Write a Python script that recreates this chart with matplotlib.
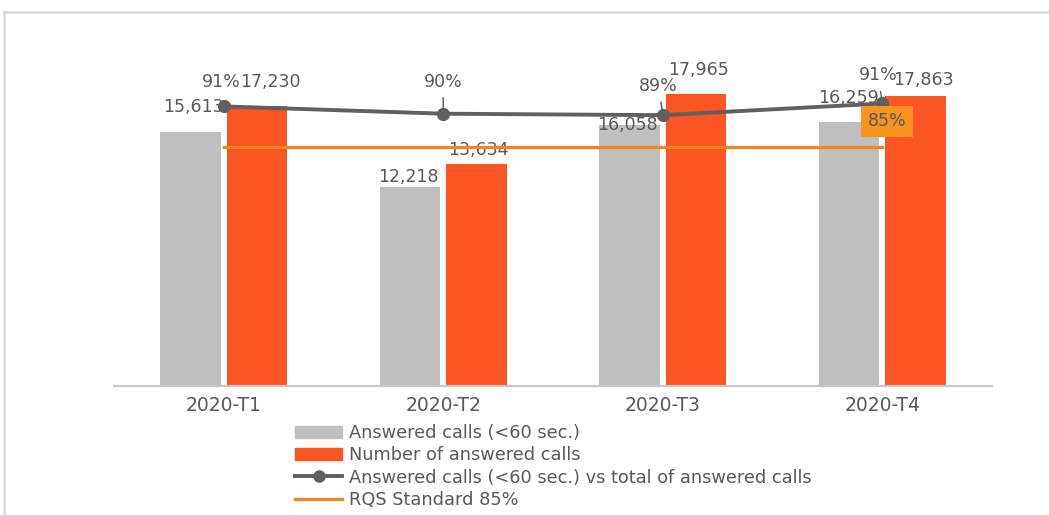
import matplotlib
matplotlib.use("Agg")
import matplotlib.pyplot as plt
from matplotlib.lines import Line2D

# ---- data ----
categories = ["2020-T1", "2020-T2", "2020-T3", "2020-T4"]
answered_60 = [15613, 12218, 16058, 16259]
answered_total = [17230, 13634, 17965, 17863]
pct_60 = [0.906, 0.896, 0.894, 0.910]
rqs_standard = 0.85

legend_labels = ["Answered calls (<60 sec.)", "Number of answered calls",
                 "Answered calls (<60 sec.) vs total of answered calls",
                 "RQS Standard 85%"]

# ---- styles ----
GREY = "#BFBFBF"
ORANGE = "#FA5522"
LINE = "#5F5F5F"
RQS = "#F7841F"
BOX = "#F7931E"
TXT = "#595959"
plt.rcParams['font.family'] = ['DejaVu Sans']

fig = plt.figure(figsize=(10.49, 5.15), dpi=100)
ax = fig.add_axes([114/1049, 1-386/515, (992-114)/1049, 366/515])
ax2 = ax.twinx()

x = list(range(len(categories)))
w = 0.275
off = 0.152
xg = [i - off for i in x]
xo = [i + off for i in x]
ax.bar(xg, answered_60, width=w, color=GREY, zorder=2)
ax.bar(xo, answered_total, width=w, color=ORANGE, zorder=2)
ax.set_xlim(-0.5, 3.5)
ax.set_ylim(0, 22523)

ax2.plot(x, pct_60, color=LINE, lw=2.8, marker='o', ms=8.5, zorder=4)
ax2.plot([x[0], x[-1]], [rqs_standard, rqs_standard], color=RQS, lw=2.3, zorder=3)
ax2.set_ylim(0.523, 0.523 + 366/730)

for a in (ax, ax2):
    a.set_yticks([])
    for s in ("top", "right", "left", "bottom"):
        a.spines[s].set_visible(False)
ax.spines["bottom"].set_visible(True)
ax.spines["bottom"].set_color("#C8C8C8")
ax.spines["bottom"].set_linewidth(1.6)
ax.set_xticks(x)
ax.set_xticklabels(categories, fontsize=13.5, color=TXT)
ax.tick_params(axis='x', length=0, pad=7)

fs = 12.5
# bar labels (offsets in pixels relative to bar top)
grey_off = [(3, 25), (-2, 10), (-2, 0), (0, 24)]
orange_off = [(13, 24), (2, 14), (2, 24), (8, 16)]
for i in x:
    ax.annotate(f"{answered_60[i]:,}", (xg[i], answered_60[i]), xytext=grey_off[i],
                textcoords='offset pixels', ha='center', va='center', fontsize=fs, color=TXT, zorder=6)
    ax.annotate(f"{answered_total[i]:,}", (xo[i], answered_total[i]), xytext=orange_off[i],
                textcoords='offset pixels', ha='center', va='center', fontsize=fs, color=TXT, zorder=6)

# percent labels
pct_off = [(-2, 24), (0, 32), (-4, 29), (-4, 28)]
leader = [False, True, True, True]
for i in x:
    kw = {}
    if leader[i]:
        kw['arrowprops'] = dict(arrowstyle='-', color=TXT, lw=1.0, shrinkA=3, shrinkB=3)
    ax2.annotate(f"{pct_60[i]:.0%}", (x[i], pct_60[i]), xytext=pct_off[i],
                 textcoords='offset pixels', ha='center', va='center', fontsize=fs, color=TXT,
                 zorder=6, **kw)

ax2.annotate(f"{rqs_standard:.0%}", (x[-1], rqs_standard), xytext=(5, 26),
             textcoords='offset pixels', ha='center', va='center', fontsize=fs, color=TXT,
             bbox=dict(boxstyle='square,pad=0.38', fc=BOX, ec='none'), zorder=7)

# legend
handles = [
    plt.Rectangle((0, 0), 1, 1, color=GREY),
    plt.Rectangle((0, 0), 1, 1, color=ORANGE),
    Line2D([], [], color=LINE, lw=2.8, marker='o', ms=8),
    Line2D([], [], color=RQS, lw=2.3),
]
leg = fig.legend(handles, legend_labels, loc='upper left', bbox_to_anchor=(295/1049, 1-424/515),
                 frameon=False, fontsize=12.8, labelcolor=TXT, handlelength=2.65,
                 handleheight=0.65, handletextpad=0.38, labelspacing=0.24, borderpad=0, borderaxespad=0)

# figure frame lines (top and left)
fig.add_artist(Line2D([3.5/1049, 1], [1-12/515, 1-12/515], color="#D9D9D9", lw=1.8))
fig.add_artist(Line2D([3.5/1049, 3.5/1049], [0, 1-12/515], color="#D9D9D9", lw=1.8))

fig.savefig("out.png", dpi=100)
